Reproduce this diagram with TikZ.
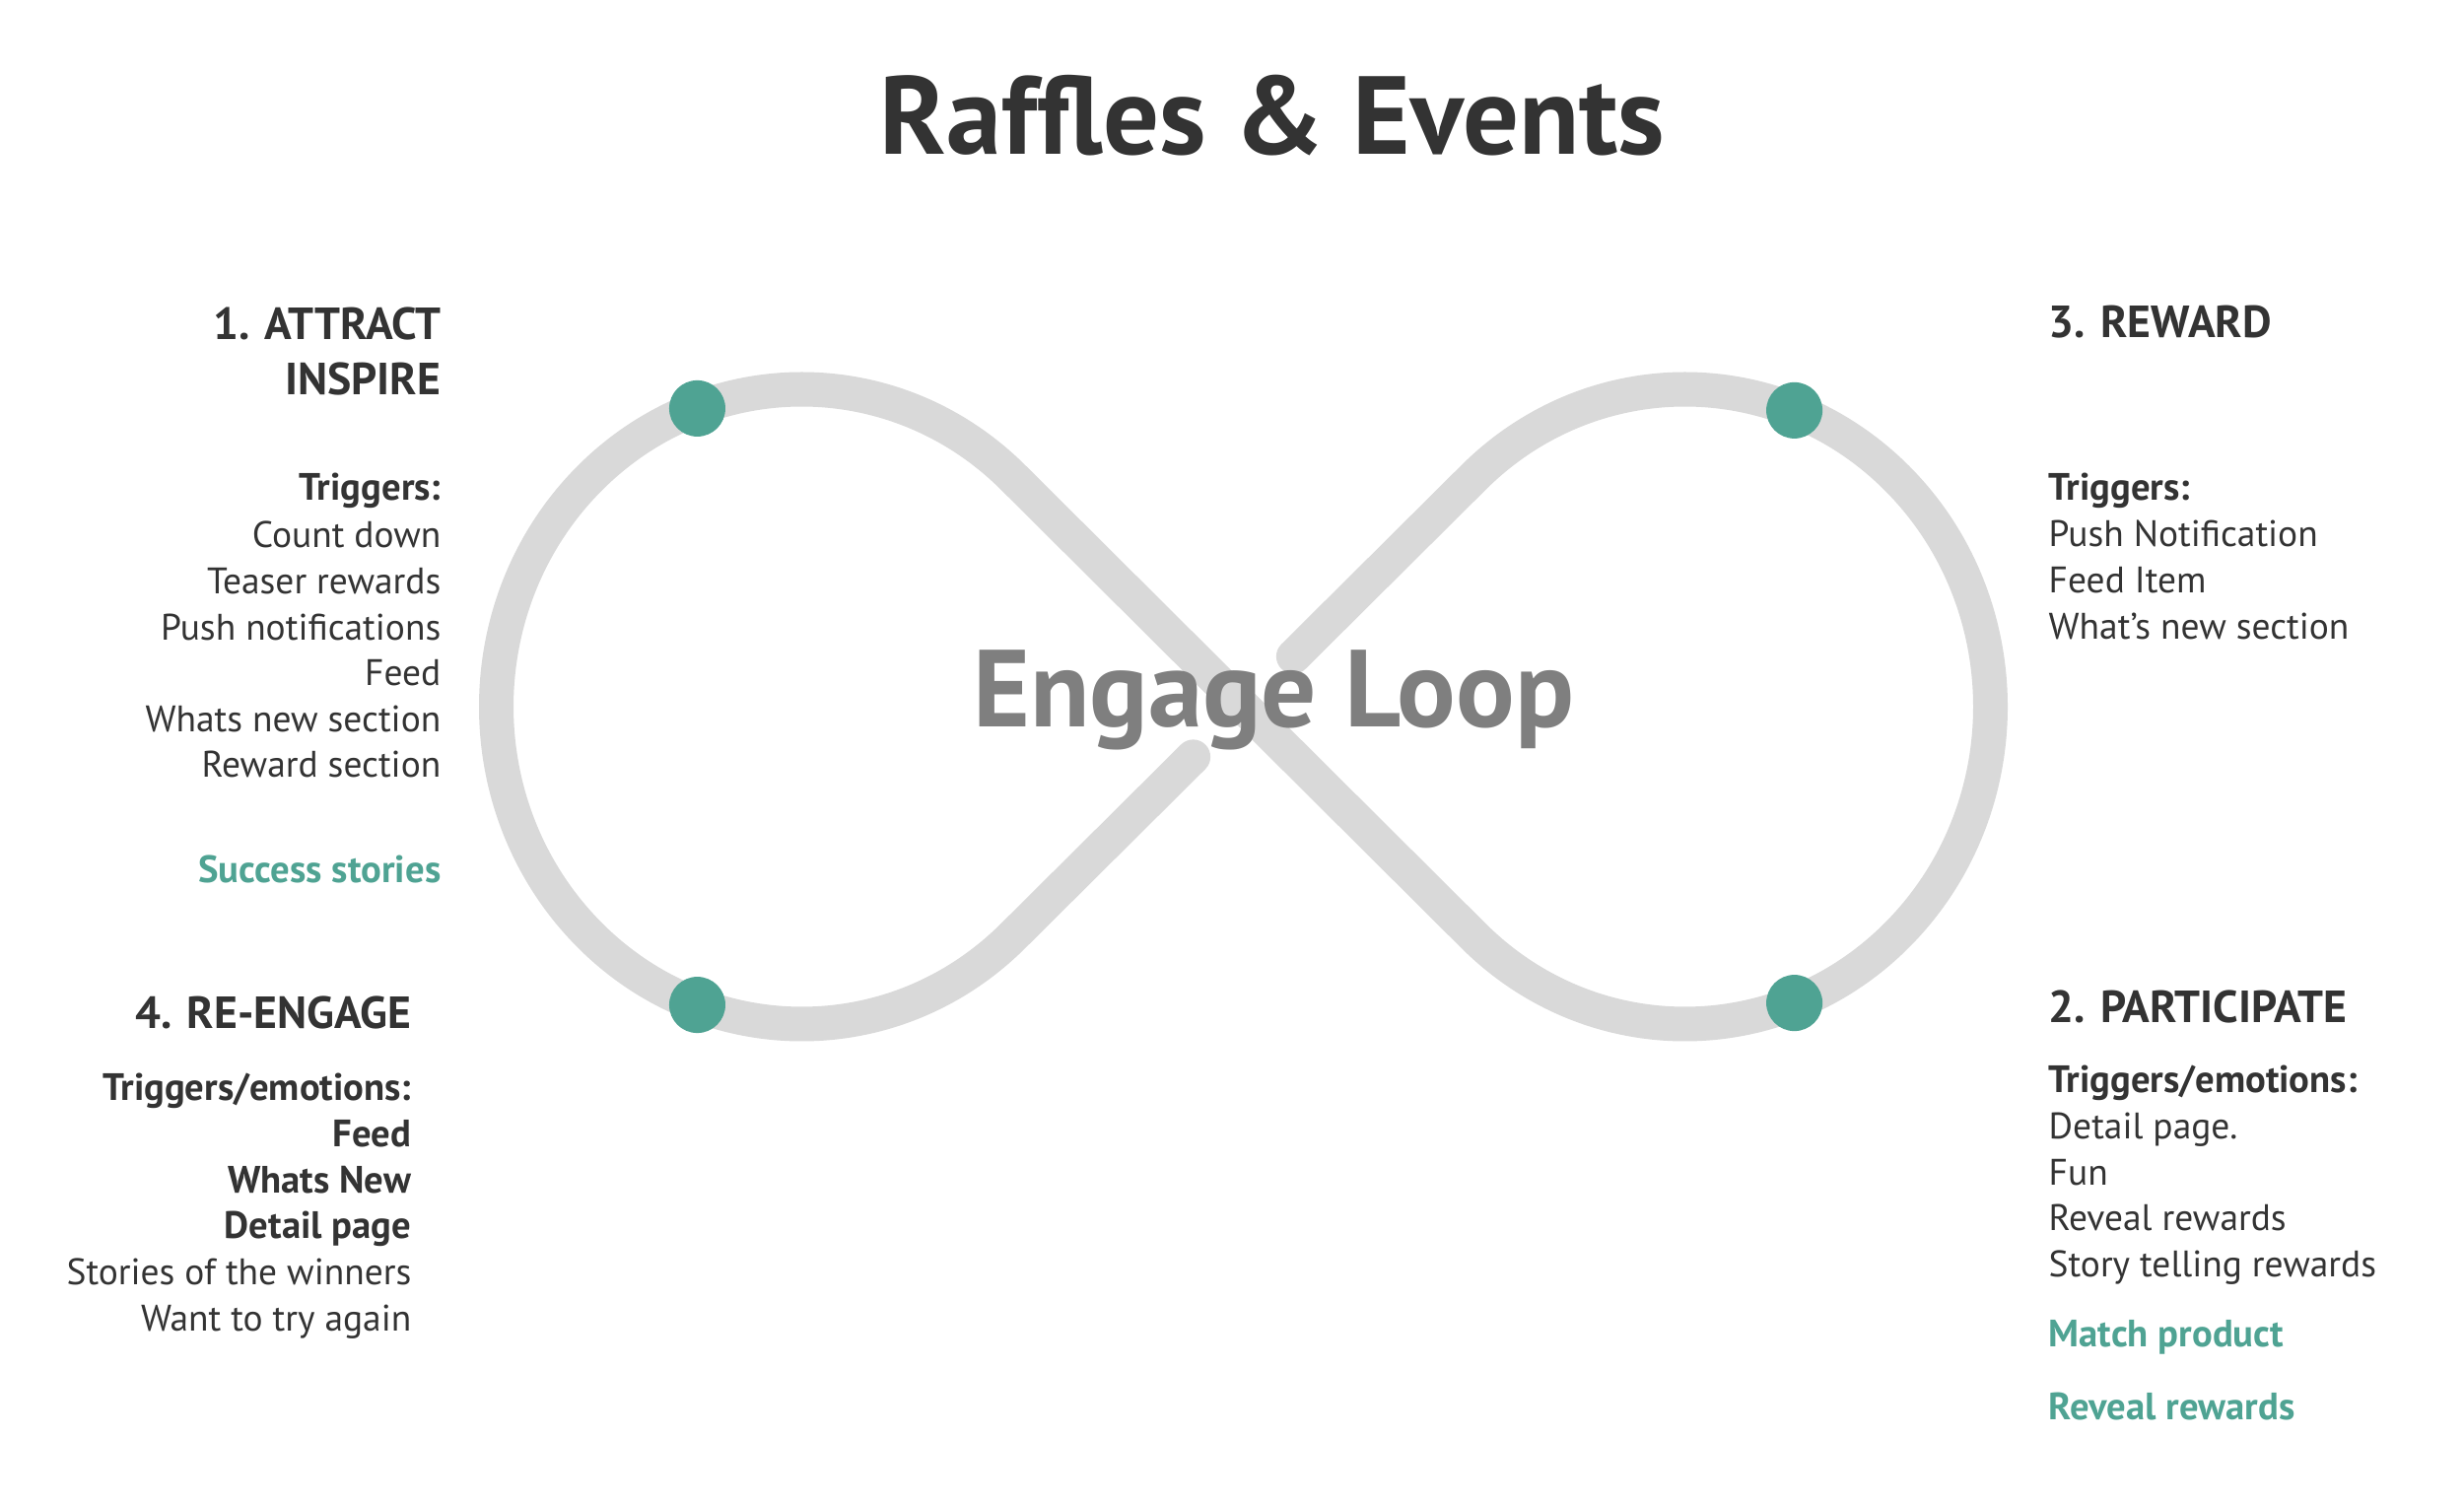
\documentclass[tikz,border=0pt]{standalone}
\usepackage{fontspec}
\setmainfont{PT Sans}
\usepackage{xcolor}
\definecolor{loopgray}{HTML}{D9D9D9}
\definecolor{pointteal}{HTML}{4FA393}
\definecolor{textdark}{HTML}{333333}
\definecolor{centergray}{HTML}{7F7F7F}

\begin{document}
\begin{tikzpicture}[
  x=0.01cm,y=0.01cm,
  every node/.style={inner sep=0pt,text=textdark,font=\fontsize{10.65}{13}\selectfont},
  phase/.style={font=\fontsize{13}{15}\selectfont\bfseries},
  cue/.style={font=\fontsize{11}{13}\selectfont\bfseries},
  accent/.style={cue,text=pointteal},
  loopline/.style={draw=loopgray,line width=0.35cm,line cap=round},
  point/.style={circle,fill=pointteal,minimum size=0.57cm}
]
  \path[use as bounding box,fill=white] (0,0) rectangle (2500,1527);

  \node[anchor=base,font=\fontsize{32}{38}\selectfont\bfseries] (title) at (1291,1370) {Raffles \& Events};

  \coordinate (lc) at (813.5,810);
  \coordinate (rc) at (1709.5,810);
  \coordinate (gapin) at (1210.6,759.1);
  \coordinate (gapout) at (1312.4,860.9);
  \draw[loopline] (gapin) -- ([shift={(-46.09:310 and 322)}]lc)
    arc[start angle=-46.09,end angle=-313.91,x radius=310,y radius=322]
    -- ([shift={(226.09:310 and 322)}]rc)
    arc[start angle=226.09,end angle=493.91,x radius=310,y radius=322]
    -- (gapout);

  \node[point] (attract-pt) at ([shift={(110:310 and 322)}]lc) {};
  \node[point] (reengage-pt) at ([shift={(250:310 and 322)}]lc) {};
  \node[point] (reward-pt) at ([shift={(69:310 and 322)}]rc) {};
  \node[point] (participate-pt) at ([shift={(291:310 and 322)}]rc) {};

  \node[anchor=base,text=centergray,font=\fontsize{31.6}{37}\selectfont\bfseries] (loopname) at (1292,789) {Engage Loop};

  \node[phase,anchor=base east] (attract) at (448,1182) {1. ATTRACT};
  \node[phase,anchor=base east] (inspire) at (448,1126) {INSPIRE};
  \node[cue,anchor=base east] (attract-cue) at (448,1019) {Triggers:};
  \foreach \entry [count=\i] in {Count down,Teaser rewards,Push notifications,Feed,Whats new section,Reward section}
    \node[anchor=base east] (attract-\i) at (448,1017.6-\i*46.6) {\entry};
  \node[accent,anchor=base east] (attract-extra) at (448,631.5) {Success stories};

  \node[phase,anchor=base west] (reward) at (2078,1184) {3. REWARD};
  \node[cue,anchor=base west] (reward-cue) at (2078,1019) {Triggers:};
  \foreach \entry [count=\i] in {Push Notification,Feed Item,What’s new section}
    \node[anchor=base west] (reward-\i) at (2078,1018.6-\i*46.6) {\entry};

  \node[phase,anchor=base east] (reengage) at (418,483) {4. RE-ENGAGE};
  \node[cue,anchor=base east] (reengage-cue) at (418,410) {Triggers/emotions:};
  \foreach \entry [count=\i] in {Feed,Whats New,Detail page}
    \node[cue,anchor=base east] (reengage-\i) at (418,410-\i*46.6) {\entry};
  \foreach \entry [count=\i] in {Stories of the winners,Want to try again}
    \node[anchor=base east] (reengage-more-\i) at (418,270.2-\i*46.6) {\entry};

  \node[phase,anchor=base west] (participate) at (2078,489) {2. PARTICIPATE};
  \node[cue,anchor=base west] (participate-cue) at (2078,418) {Triggers/emotions:};
  \foreach \entry [count=\i] in {Detail page.,Fun,Reveal rewards,Story telling rewards}
    \node[anchor=base west] (participate-\i) at (2078,418-\i*46.6) {\entry};
  \node[accent,anchor=base west] (participate-extra) at (2078,160) {Match product};
  \node[accent,anchor=base west] (participate-extra2) at (2078,87) {Reveal rewards};
\end{tikzpicture}
\end{document}
